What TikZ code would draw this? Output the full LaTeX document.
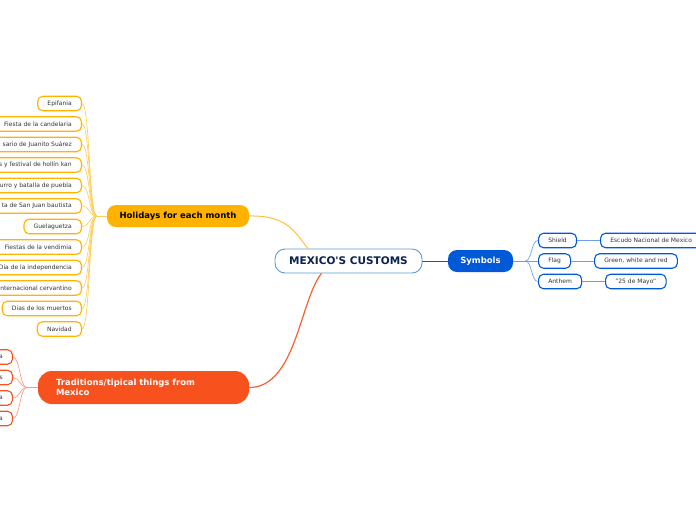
\documentclass[tikz,border=0pt]{standalone}
\usepackage{fontspec}
\setmainfont{DejaVu Sans}
\newfontfamily\cenfont{DejaVu Sans}[Ligatures=TeXOff]
\definecolor{hol}{HTML}{FFB300}
\definecolor{holline}{HTML}{FFC23A}
\definecolor{holleaf}{HTML}{FFCD55}
\definecolor{trad}{HTML}{F7521E}
\definecolor{tradline}{HTML}{F8602E}
\definecolor{tradleaf}{HTML}{F99A7A}
\definecolor{sym}{HTML}{0059D6}
\definecolor{symline}{HTML}{6E9EEA}
\definecolor{cen}{HTML}{5B9BD5}
\definecolor{centext}{HTML}{0B2150}
\definecolor{leaftext}{HTML}{333333}
\tikzset{
  leaf/.style={draw, rounded corners=5pt, fill=white, inner xsep=9.75pt, inner ysep=0pt,
    minimum height=14.5pt, font=\fontsize{6}{7}\selectfont, text=leaftext, line width=1.1pt},
  hleaf/.style={leaf, draw=hol, anchor=east},
  tleaf/.style={leaf, draw=trad, anchor=east, text width=40pt, align=right},
  sleaf/.style={leaf, draw=sym, anchor=west},
  mainbox/.style={rounded corners=9pt, inner sep=0pt, minimum height=22pt,
    font=\bfseries\fontsize{8.5}{10}\selectfont},
  holfan/.style={draw=holleaf, line width=0.65pt},
  tradfan/.style={draw=tradleaf, line width=0.65pt},
  symfan/.style={draw=symline, line width=0.65pt},
}
\begin{document}
\begin{tikzpicture}[x=1pt,y=-1pt]
\useasboundingbox (0,0) rectangle (696,520);
\clip (0,0) rectangle (696,520);

% central
\node[draw=cen, fill=white, rounded corners=10pt, minimum width=147pt, minimum height=24pt,
  inner sep=0pt, line width=0.9pt, font=\cenfont\bfseries\fontsize{10.5}{12}\selectfont, text=centext]
  (c) at (348.5,261) {MEXICO'S CUSTOMS};

% main branches
\node[mainbox, fill=hol, minimum width=142pt, text=black] (h) at (178,216) {Holidays for each month};
\node[mainbox, fill=sym, minimum width=65pt, text=white] (s) at (480.5,261) {Symbols};
\node[mainbox, fill=trad, rounded corners=14pt, minimum height=33pt, text width=175pt,
  inner xsep=18pt, align=left, text=white, font=\bfseries\fontsize{8.5}{10}\selectfont]
  (t) at (143.5,387.5) {Traditions/tipical things from\\Mexico};

% holiday leaves
\node[hleaf] (h1) at (82,103.5) {Epifania};
\node[hleaf] (h2) at (82,124) {Fiesta de la candelaria};
\node[hleaf] (h3) at (82,144.5) {sario de Juanito Suárez};
\node[hleaf] (h4) at (82,165) {s y festival de hollín kan};
\node[hleaf] (h5) at (82,185.5) {urro y batalla de puebla};
\node[hleaf] (h6) at (82,206) {ta de San Juan bautista};
\node[hleaf] (h7) at (82,226.5) {Guelaguetza};
\node[hleaf] (h8) at (82,247) {Fiestas de la vendimia};
\node[hleaf] (h9) at (82,267.5) {Dia de la independencia};
\node[hleaf] (h10) at (82,288) {internacional cervantino};
\node[hleaf] (h11) at (82,308.5) {Dias de los muertos};
\node[hleaf] (h12) at (82,329) {Navidad};

% tradition leaves
\node[tleaf] (t1) at (13,357) {a};
\node[tleaf] (t2) at (13,377.5) {s};
\node[tleaf] (t3) at (13,398) {a};
\node[tleaf] (t4) at (13,418.5) {a};

% symbol leaves
\node[sleaf] (s1) at (538,240.5) {Shield};
\node[sleaf] (s2) at (538,261) {Flag};
\node[sleaf] (s3) at (538,281.5) {Anthem};
\node[sleaf] (e1) at (600,240.5) {Escudo Nacional de Mexico};
\node[sleaf] (e2) at (594,261) {Green, white and red};
\node[sleaf] (e3) at (605,281.5) {"25 de Mayo"};

% main connectors
\draw[holline, line width=1pt] (h.east) .. controls (290,215) and (297,236) .. ([xshift=-40.5pt]c.north);
\draw[tradline, line width=1.2pt] ([xshift=-27pt]c.south) .. controls (300,300) and (296,387.5) .. (t.east);
\draw[sym, line width=1pt] (c.east) -- (s.west);

% fans
\coordinate (hf) at ([xshift=-10pt]h.west);
\draw[holfan] (h.west) -- (hf);
\foreach \n in {h1,h2,h3,h4,h5,h6,h7,h8,h9,h10,h11,h12}
  \draw[holfan] (hf) .. controls +(-8,0) and +(8,0) .. (\n.east);

\coordinate (tf) at ([xshift=-11pt]t.west);
\draw[tradfan] (t.west) -- (tf);
\foreach \n in {t1,t2,t3,t4}
  \draw[tradfan] (tf) .. controls +(-7,0) and +(7,0) .. (\n.east);

\coordinate (sf) at ([xshift=12pt]s.east);
\draw[symfan] (s.east) -- (sf);
\foreach \n in {s1,s2,s3}
  \draw[symfan] (sf) .. controls +(7,0) and +(-7,0) .. (\n.west);

\draw[symfan] (s1.east) -- (e1.west);
\draw[symfan] (s2.east) -- (e2.west);
\draw[symfan] (s3.east) -- (e3.west);
\end{tikzpicture}
\end{document}
